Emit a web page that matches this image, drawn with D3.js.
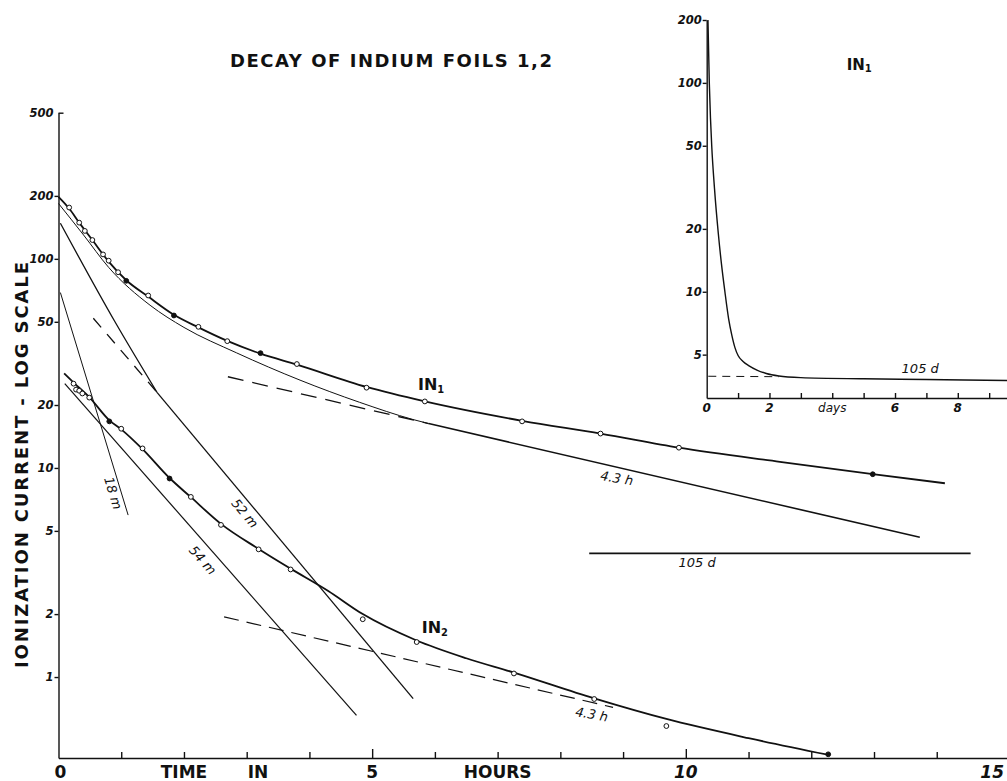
<!DOCTYPE html>
<html>
<head>
<meta charset="utf-8">
<title>decay-of-indium</title>
<style>
  * { margin: 0; padding: 0; }
  body { background: #fff; }
  svg { display: block; }
  text { font-family: "DejaVu Sans", sans-serif; fill: #111; }
  .num { font-size: 11.5px; font-style: italic; font-weight: bold; }
  .word { font-size: 17px; font-weight: bold; }
  .note { font-size: 13px; font-style: italic; }
  .axis path, .axis line { stroke: #111; stroke-width: 1.4; }
</style>
</head>
<body>
<svg id="svg"></svg>
<script src="https://cdnjs.cloudflare.com/ajax/libs/d3/7.8.5/d3.min.js"></script>
<script>
  // ---- main chart: IN1 measured points (hours / ionization current)
  const in1Hours = [0.17, 0.33, 0.42, 0.54, 0.71, 0.80, 0.95, 1.08, 1.43, 1.84, 2.23, 2.69, 3.22, 3.80, 4.91, 5.84, 7.39, 8.64, 9.89, 12.98];
  const in1Values = [176, 149, 136, 123, 105, 98, 86.3, 78.5, 66.8, 53.6, 47.3, 40.4, 35.4, 31.4, 24.2, 20.8, 16.7, 14.6, 12.5, 9.33];
  const in1Filled = [7, 9, 12, 19];

  // fitted curve through IN1
  const in1CurveHours = [0, 0.17, 0.33, 0.54, 0.8, 1.08, 1.43, 1.84, 2.23, 2.69, 3.22, 3.8, 4.91, 5.84, 7.39, 8.64, 9.89, 11.5, 12.98, 14.13];
  const in1CurveValues = [198, 174, 149, 123, 97, 79, 66, 54, 47, 40.5, 35.2, 31.2, 24.4, 20.8, 16.8, 14.6, 12.5, 10.7, 9.35, 8.45];

  // IN1 minus long-lived part (thin curve)
  const in1ThinHours = [0, 0.4, 0.8, 1.46, 2.0, 2.84, 3.85, 4.8, 5.65, 5.9];
  const in1ThinValues = [184, 130, 91, 60, 47, 35.5, 26.3, 20.6, 17.05, 16.3];

  // 4.3 h component of IN1
  const in1HalfDashed = [[2.70, 27.3], [5.9, 16.3]];
  const in1HalfSolid = [[5.9, 16.3], [13.73, 4.66]];

  // 105 d level
  const longLived = [[8.46, 3.9], [14.54, 3.9]];

  // ---- IN2 measured points
  const in2Hours = [0.24, 0.28, 0.33, 0.38, 0.49, 0.81, 1.0, 1.34, 1.77, 2.11, 2.59, 3.19, 3.70, 4.85, 5.71, 7.26, 8.54, 9.69, 12.27];
  const in2Values = [25.3, 23.7, 23.4, 22.7, 21.7, 16.7, 15.4, 12.4, 8.9, 7.27, 5.34, 4.08, 3.27, 1.89, 1.47, 1.04, 0.785, 0.583, 0.427];
  const in2Filled = [5, 8, 18];

  const in2CurveHours = [0.09, 0.24, 0.49, 0.81, 1.0, 1.34, 1.77, 2.11, 2.59, 3.19, 3.7, 4.3, 4.85, 5.7, 6.5, 7.26, 8.54, 9.69, 11.0, 12.26];
  const in2CurveValues = [28.3, 25.6, 21.8, 16.9, 15.3, 12.3, 8.95, 7.25, 5.4, 4.1, 3.3, 2.58, 2.0, 1.5, 1.23, 1.05, 0.79, 0.63, 0.51, 0.425];

  const in2HalfDashed = [[2.64, 1.94], [8.84, 0.716]];

  // short-lived components
  const comp54m = [[0.1, 25.3], [4.75, 0.656]];
  const comp52mCurve = [[0.03, 148], [0.9, 50], [1.57, 23.0]];
  const comp52mLine = [[1.57, 23.0], [5.654, 0.788]];
  const comp52mDashed = [[0.555, 52], [1.57, 23.0]];
  const comp18m = [[0.03, 69], [1.11, 5.95]];

  // ---- inset: IN1 over days
  const insetDays = [0.04, 0.083, 0.12, 0.16, 0.25, 0.37, 0.47, 0.58, 0.7, 0.8, 0.9, 1.0, 1.15, 1.35, 1.6, 1.9, 2.3, 3, 5, 7, 9.6];
  const insetValues = [200, 100, 68, 50, 31, 19, 13.6, 10, 7.4, 6.2, 5.4, 4.95, 4.65, 4.42, 4.22, 4.06, 3.95, 3.88, 3.83, 3.8, 3.76];
  const insetDashed = [[0.05, 3.94], [2.3, 3.92]];

  // ticks
  const yTicks = [1, 2, 5, 10, 20, 50, 100, 200, 500];
  const xTickLabels = [0, 5, 10, 15];
  const xWords = ['TIME', 'IN', 'HOURS'];
  const xWordHours = [2.0, 3.18, 7.0];
  const insetYTicks = [5, 10, 20, 50, 100, 200];
  const insetXLabels = ['0', '2', 'days', '6', '8'];
  const insetXLabelDays = [0, 2, 4, 6, 8];

  const svg = d3.select('#svg').attr('width', 1007).attr('height', 781);

  const x = d3.scaleLinear().domain([0, 15.12]).range([58.5, 1007]);
  const y = d3.scaleLog().domain([0.41, 500]).range([758, 112.7]);
  const xi = d3.scaleLinear().domain([0, 9.6]).range([706.7, 1008]);
  const yi = d3.scaleLog().domain([3.1, 200]).range([398, 20]);

  const line = (sx, sy, curve) => d3.line().x(d => sx(d[0])).y(d => sy(d[1])).curve(curve || d3.curveLinear);

  function draw(g, pts, width, dash, curve, sx = x, sy = y) {
    g.append('path')
      .attr('d', line(sx, sy, curve)(pts))
      .attr('fill', 'none')
      .attr('stroke', '#111')
      .attr('stroke-width', width)
      .attr('stroke-dasharray', dash || null);
  }

  // ---- main axes
  const yAxis = svg.append('g').attr('class', 'axis')
    .attr('transform', `translate(${x(0)},0)`)
    .call(d3.axisLeft(y).tickValues(yTicks).tickSize(4).tickSizeOuter(0).tickPadding(1).tickFormat(d3.format('d')));
  yAxis.selectAll('text').attr('class', 'num');
  yAxis.selectAll('.tick').filter(d => d === 500).select('line').attr('x2', 5);
  yAxis.attr('font-family', null).attr('font-size', null);

  const xAxis = svg.append('g').attr('class', 'axis')
    .attr('transform', `translate(0,${y(0.41)})`)
    .call(d3.axisBottom(x).tickValues(d3.range(1, 15)).tickSize(-6).tickSizeOuter(0).tickFormat(''));
  xAxis.selectAll('.tick').filter(d => d % 5 === 0).select('line').attr('y2', -9);

  svg.append('g').selectAll('text')
    .data(xTickLabels).enter().append('text')
    .attr('class', 'word')
    .attr('x', d => d === 15 ? 1004 : x(d) + (d === 0 ? 2 : 0))
    .attr('y', 778)
    .attr('text-anchor', d => d === 15 ? 'end' : 'middle')
    .style('font-style', d => d >= 10 ? 'italic' : 'normal')
    .text(d => d);

  svg.append('g').selectAll('text')
    .data(xWords).enter().append('text')
    .attr('class', 'word')
    .attr('x', (d, i) => x(xWordHours[i]))
    .attr('y', 778)
    .attr('text-anchor', 'middle')
    .text(d => d);

  svg.append('text')
    .attr('class', 'word')
    .attr('transform', `translate(28,${(262 + 668) / 2}) rotate(-90)`)
    .attr('text-anchor', 'middle')
    .attr('textLength', 406)
    .attr('lengthAdjust', 'spacing')
    .style('font-size', '18px')
    .text('IONIZATION  CURRENT  -  LOG  SCALE');

  svg.append('text')
    .attr('class', 'word')
    .attr('x', 230).attr('y', 67)
    .attr('textLength', 322)
    .attr('lengthAdjust', 'spacing')
    .style('font-size', '18px')
    .text('DECAY OF INDIUM  FOILS 1,2');

  // ---- main curves
  const plot = svg.append('g');
  draw(plot, d3.zip(in1CurveHours, in1CurveValues), 1.8, null, d3.curveMonotoneX);
  draw(plot, d3.zip(in1ThinHours, in1ThinValues), 1.0, null, d3.curveMonotoneX);
  draw(plot, in1HalfDashed, 1.3, '16,9');
  draw(plot, in1HalfSolid, 1.6);
  draw(plot, longLived, 1.8);

  draw(plot, d3.zip(in2CurveHours, in2CurveValues), 1.8, null, d3.curveMonotoneX);
  draw(plot, in2HalfDashed, 1.2, '15,8');
  draw(plot, comp54m, 1.2);
  draw(plot, comp52mCurve, 1.3, null, d3.curveMonotoneX);
  draw(plot, comp52mLine, 1.3);
  draw(plot, comp52mDashed, 1.3, '12,9');
  draw(plot, comp18m, 1.0);

  function points(hours, values, filled) {
    plot.append('g').selectAll('circle')
      .data(d3.zip(hours, values)).enter().append('circle')
      .attr('cx', d => x(d[0]))
      .attr('cy', d => y(d[1]))
      .attr('r', 2.4)
      .attr('fill', (d, i) => filled.includes(i) ? '#111' : '#fff')
      .attr('stroke', '#111')
      .attr('stroke-width', 1);
  }
  points(in1Hours, in1Values, in1Filled);
  points(in2Hours, in2Values, in2Filled);

  // ---- annotations (data coordinates)
  const notes = [
    { text: '18 m', h: 0.87, v: 7.57, rot: 73 },
    { text: '52 m', h: 2.97, v: 6.07, rot: 50 },
    { text: '54 m', h: 2.30, v: 3.62, rot: 48 },
    { text: '4.3 h', h: 8.90, v: 8.93, rot: 10 },
    { text: '4.3 h', h: 8.50, v: 0.663, rot: 10 },
    { text: '105 d', h: 10.18, v: 3.54, rot: 0 }
  ];
  svg.append('g').selectAll('text')
    .data(notes).enter().append('text')
    .attr('class', 'note')
    .attr('transform', d => `translate(${x(d.h)},${y(d.v)}) rotate(${d.rot})`)
    .attr('text-anchor', 'middle')
    .attr('dominant-baseline', 'central')
    .text(d => d.text);

  function inLabel(px, py, sub, size) {
    const t = svg.append('text').attr('class', 'word').attr('x', px).attr('y', py).style('font-size', size + 'px');
    t.append('tspan').text('IN');
    t.append('tspan').attr('dy', 3).style('font-size', (size * 0.62) + 'px').text(sub);
  }
  inLabel(x(5.73), y(23.5), '1', 16);
  inLabel(x(5.79), y(1.62), '2', 16);

  // ---- inset
  const inset = svg.append('g');
  const iy = inset.append('g').attr('class', 'axis')
    .attr('transform', `translate(${xi(0)},0)`)
    .call(d3.axisLeft(yi).tickValues(insetYTicks).tickSize(4).tickSizeOuter(0).tickPadding(1).tickFormat(d3.format('d')));
  iy.selectAll('text').attr('class', 'num');
  iy.attr('font-family', null).attr('font-size', null);

  inset.append('g').attr('class', 'axis')
    .attr('transform', `translate(0,${yi(3.1)})`)
    .call(d3.axisBottom(xi).tickValues(d3.range(1, 10)).tickSize(-5).tickSizeOuter(0).tickFormat(''));

  inset.append('g').selectAll('text')
    .data(insetXLabels).enter().append('text')
    .attr('class', 'num')
    .attr('x', (d, i) => xi(insetXLabelDays[i]))
    .attr('y', 412)
    .attr('text-anchor', 'middle')
    .style('font-weight', (d) => d === 'days' ? 'normal' : 'bold')
    .style('font-size', '12px')
    .text(d => d);

  draw(inset, d3.zip(insetDays, insetValues), 1.4, null, d3.curveMonotoneX, xi, yi);
  draw(inset, insetDashed, 1.0, '8,6', null, xi, yi);

  svg.append('text')
    .attr('class', 'note')
    .attr('x', xi(6.21)).attr('y', yi(4.07))
    .text('105 d');

  const t = svg.append('text').attr('class', 'word').attr('x', xi(4.46)).attr('y', yi(115.7)).style('font-size', '15px');
  t.append('tspan').text('IN');
  t.append('tspan').attr('dy', 2).style('font-size', '10px').text('1');
</script>
</body>
</html>
